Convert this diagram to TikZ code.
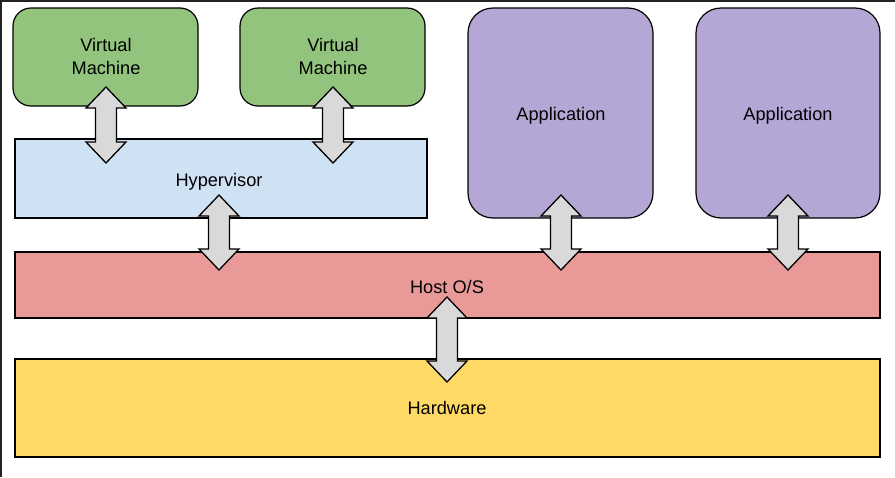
\documentclass[tikz,border=0pt]{standalone}
\usepackage{fontspec}
\setmainfont{Liberation Sans}
\definecolor{vmgreen}{HTML}{93C47D}
\definecolor{hypblue}{HTML}{CFE2F3}
\definecolor{apppurple}{HTML}{B4A7D6}
\definecolor{osred}{HTML}{EA9999}
\definecolor{hwyellow}{HTML}{FFD966}
\definecolor{arrgray}{HTML}{D9D9D9}
\definecolor{edge}{HTML}{222222}
\newcommand\blockarr[3]{%
  \draw[arrstyle] (#1,#2) -- (#1+20,#2+21) -- (#1+10.5,#2+21) -- (#1+10.5,#3-21)
    -- (#1+20,#3-21) -- (#1,#3) -- (#1-20,#3-21) -- (#1-10.5,#3-21)
    -- (#1-10.5,#2+21) -- (#1-20,#2+21) -- cycle;}
\tikzset{
  box/.style={draw=black, line width=1.2pt, font=\fontsize{18.2}{23}\selectfont, align=center, inner sep=0pt},
  arrstyle/.style={draw=black, fill=arrgray, line width=1.3pt, line join=miter},
}
\begin{document}
\begin{tikzpicture}[x=1pt,y=-1pt]
\useasboundingbox (0,0) rectangle (895,477);
\fill[white] (0,0) rectangle (895,477);
\fill[edge] (0,0) rectangle (895,1.6);
\fill[edge] (0,0) rectangle (1.8,477);
% boxes
\draw[box, fill=vmgreen, rounded corners=18pt] (13,8) rectangle (198,106);
\node[box, draw=none] (vm1) at (106,56) {Virtual\\Machine};
\draw[box, fill=vmgreen, rounded corners=18pt] (240,8) rectangle (425,106);
\node[box, draw=none] (vm2) at (333,56) {Virtual\\Machine};
\draw[box, fill=apppurple, rounded corners=25pt] (468,8) rectangle (653,218);
\node[box, draw=none] (app1) at (561,116) {Application};
\draw[box, fill=apppurple, rounded corners=25pt] (696,8) rectangle (880,218);
\node[box, draw=none] (app2) at (788,116) {Application};
\draw[box, fill=hypblue] (15,139) rectangle (427,218);
\node[box, draw=none] (hyp) at (219,182) {Hypervisor};
\draw[box, fill=osred] (15,252) rectangle (880,318);
\node[box, draw=none] (os) at (447,287) {Host O/S};
\draw[box, fill=hwyellow] (15,359) rectangle (880,457);
\node[box, draw=none] (hw) at (447,408) {Hardware};
% arrows
\blockarr{106}{87}{163}
\blockarr{333}{87}{163}
\blockarr{219}{195}{270}
\blockarr{561}{195}{270}
\blockarr{788}{195}{270}
\blockarr{447}{297}{382}
\end{tikzpicture}
\end{document}
